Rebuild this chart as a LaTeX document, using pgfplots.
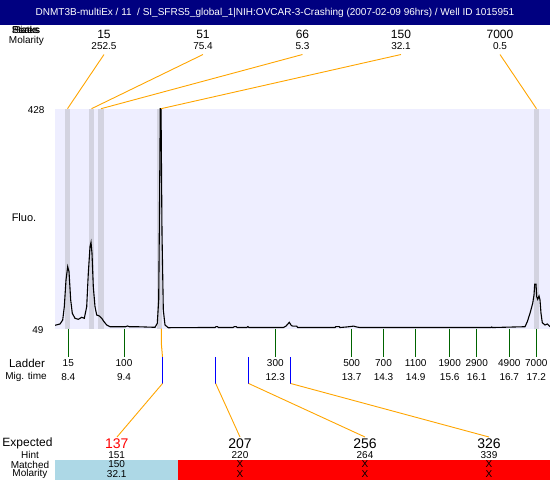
\documentclass[border=0pt]{standalone}
\usepackage{fontspec}
\setmainfont{Liberation Sans}
\usepackage{pgfplots}
\pgfplotsset{compat=1.18}
\definecolor{navy}{RGB}{0,0,128}
\definecolor{lav}{RGB}{238,238,255}
\definecolor{barg}{RGB}{211,211,224}
\definecolor{org}{RGB}{255,165,0}
\definecolor{dgreen}{RGB}{0,100,0}
\definecolor{lblue}{RGB}{173,216,230}
\newcommand{\fs}[1]{\fontsize{#1bp}{#1bp}\selectfont}
\begin{document}
\begin{tikzpicture}
% ---------- trace axis (migration time vs fluorescence) ----------
\begin{axis}[
  at={(55bp,151.3bp)}, anchor=south west,
  width=495bp, height=220bp, scale only axis,
  xmin=8.1495, xmax=17.4715, ymin=49, ymax=428,
  axis line style={draw=none}, xtick=\empty, ytick=\empty,
  axis background/.style={fill=lav},
  no markers,
]
% grey peak bands
\addplot[fill=barg, draw=none] coordinates {(8.3379,49) (8.4320,49) (8.4320,428) (8.3379,428)} -- cycle;
\addplot[fill=barg, draw=none] coordinates {(8.7898,49) (8.8840,49) (8.8840,428) (8.7898,428)} -- cycle;
\addplot[fill=barg, draw=none] coordinates {(8.9537,49) (9.0723,49) (9.0723,428) (8.9537,428)} -- cycle;
\addplot[fill=barg, draw=none] coordinates {(10.0781,49) (10.1723,49) (10.1723,428) (10.0781,428)} -- cycle;
\addplot[fill=barg, draw=none] coordinates {(17.1703,49) (17.2644,49) (17.2644,428) (17.1703,428)} -- cycle;
% electropherogram trace
\addplot[black, line width=1.1bp] coordinates {
(8.1495,54.9) (8.2437,57.1) (8.2945,64.0) (8.3247,86.9) (8.3567,132.9) (8.3887,155.8)
(8.4132,147.2) (8.4452,98.4) (8.4753,75.5) (8.5262,66.9) (8.5883,65.2) (8.6524,68.6)
(8.7013,66.9) (8.7465,86.9) (8.7767,144.4) (8.8087,190.3) (8.8275,197.8) (8.8463,178.9)
(8.8708,121.4) (8.9028,86.9) (8.9348,72.6) (8.9838,70.9) (9.0290,66.9) (9.0723,61.1)
(9.1232,55.4) (9.1853,52.4) (9.4057,52.4) (9.48,52.4) (9.513,53.7) (9.55,52.4)
(9.6881,52.4) (10.0328,51.4) (10.0761,58.3) (10.1024,98.4) (10.1137,213.9) (10.1269,365.5)
(10.1326,440) (10.1458,440) (10.1514,365.5) (10.1646,213.9) (10.1891,81.2) (10.2211,55.4)
(10.2832,50.7) (10.88,51.0) (11.1627,51.0) (11.1815,52.7) (11.2060,52.7) (11.2286,51.0)
(11.5017,51.0) (11.5299,52.7) (11.5582,52.7) (11.58,51.0) (11.7597,51.0) (11.7842,52.7)
(11.8030,51.0) (12.45,51.0) (12.50,53.5) (12.562,60.0) (12.60,54.5) (12.626,53.5)
(12.70,53.5) (12.72,51.0) (13.4226,51.0) (13.44,52.7) (13.50,52.7) (13.5167,51.0)
(13.6429,52.0) (13.74,53.0) (13.77,53.5) (13.83,52.0) (13.89,51.0) (16.36,51.0)
(16.3737,51.9) (16.3888,51.0) (17.0008,52.4) (17.0441,61.1) (17.0950,75.5) (17.1458,92.8)
(17.1703,107.1) (17.1834,125.5) (17.2079,125.5) (17.2211,104.1) (17.2399,99.6) (17.2644,105.3)
(17.2833,98.4) (17.3021,75.5) (17.3266,59.3) (17.3774,55.4) (17.4207,57.1) (17.4715,52.4)
};
\end{axis}
% ---------- overlay axis in pixel frame ----------
\begin{axis}[
  at={(0,0)}, anchor=south west,
  width=550bp, height=480bp, scale only axis,
  xmin=0, xmax=550, ymin=0, ymax=480, y dir=reverse,
  hide axis, clip=false, no markers,
]
% title bar
\addplot[fill=navy, draw=none] coordinates {(0,0) (550,0) (550,24.5) (0,24.5)} -- cycle;
% matched / molarity bars
\addplot[fill=lblue, draw=none] coordinates {(55,460) (178,460) (178,480) (55,480)} -- cycle;
\addplot[fill=red, draw=none] coordinates {(178,460) (550,460) (550,480) (178,480)} -- cycle;
% top connectors
\addplot[org, line width=0.9bp] coordinates {(104,54.5) (67.5,108.7)};
\addplot[org, line width=0.9bp] coordinates {(203,54.5) (91.5,108.7)};
\addplot[org, line width=0.9bp] coordinates {(302.5,54.5) (101,108.7)};
\addplot[org, line width=0.9bp] coordinates {(401,54.5) (161,108.7)};
\addplot[org, line width=0.9bp] coordinates {(500,54.5) (536.5,108.7)};
% ladder ticks
\addplot[dgreen, line width=1bp] coordinates {(68.3,328.7) (68.3,356.7)};
\addplot[dgreen, line width=1bp] coordinates {(124,328.7) (124,356.7)};
\addplot[dgreen, line width=1bp] coordinates {(275.3,328.7) (275.3,356.7)};
\addplot[dgreen, line width=1bp] coordinates {(351.6,328.7) (351.6,356.7)};
\addplot[dgreen, line width=1bp] coordinates {(383.5,328.7) (383.5,356.7)};
\addplot[dgreen, line width=1bp] coordinates {(415.7,328.7) (415.7,356.7)};
\addplot[dgreen, line width=1bp] coordinates {(449.7,328.7) (449.7,356.7)};
\addplot[dgreen, line width=1bp] coordinates {(476.7,328.7) (476.7,356.7)};
\addplot[dgreen, line width=1bp] coordinates {(509.3,328.7) (509.3,356.7)};
\addplot[dgreen, line width=1bp] coordinates {(536.3,328.7) (536.3,356.7)};
% expected-fragment connectors
\addplot[org, line width=1bp] coordinates {(161.3,328.7) (161.3,343) (162.5,357)};
\addplot[blue, line width=1bp] coordinates {(162.5,357) (162.5,383.5)};
\addplot[blue, line width=1bp] coordinates {(215.7,357) (215.7,383.5)};
\addplot[blue, line width=1bp] coordinates {(248.7,357) (248.7,383.5)};
\addplot[blue, line width=1bp] coordinates {(290.7,357) (290.7,383.5)};
\addplot[org, line width=0.9bp] coordinates {(162.5,383.5) (117,437)};
\addplot[org, line width=0.9bp] coordinates {(215.7,383.5) (240,437)};
\addplot[org, line width=0.9bp] coordinates {(248.7,383.5) (365,437)};
\addplot[org, line width=0.9bp] coordinates {(290.7,383.5) (489,437)};
% ---- texts ----
\node[white, font=\fs{10}] at (axis cs:275,12.5) {DNMT3B-multiEx / 11~~/ SI\_SFRS5\_global\_1|NIH:OVCAR-3-Crashing (2007-02-09 96hrs) / Well ID 1015951};
\node[font=\fs{10}] at (axis cs:26,30) {Peaks};
\node[font=\fs{10}] at (axis cs:26,30) {Sizes};
\node[font=\fs{10}] at (axis cs:26,30) {Status};
\node[font=\fs{10}] at (axis cs:26.5,41) {Molarity};
% sizes and molarities of peaks
\node[font=\fs{12}] at (axis cs:104,34) {15};
\node[font=\fs{12}] at (axis cs:203,34) {51};
\node[font=\fs{12}] at (axis cs:302.5,34) {66};
\node[font=\fs{12}] at (axis cs:401,34) {150};
\node[font=\fs{12}] at (axis cs:500,34) {7000};
\node[font=\fs{10}] at (axis cs:104,46.5) {252.5};
\node[font=\fs{10}] at (axis cs:203,46.5) {75.4};
\node[font=\fs{10}] at (axis cs:302.5,46.5) {5.3};
\node[font=\fs{10}] at (axis cs:401,46.5) {32.1};
\node[font=\fs{10}] at (axis cs:500,46.5) {0.5};
% y labels
\node[font=\fs{10}, anchor=east] at (axis cs:48,110) {428};
\node[font=\fs{10}, anchor=east] at (axis cs:47,330) {49};
\node[font=\fs{11}] at (axis cs:24,218) {Fluo.};
% ladder
\node[font=\fs{11.5}] at (axis cs:27,363) {Ladder};
\node[font=\fs{10}] at (axis cs:26,377) {Mig. time};
\node[font=\fs{10}] at (axis cs:68.3,362.7) {15};
\node[font=\fs{10}] at (axis cs:124,362.7) {100};
\node[font=\fs{10}] at (axis cs:275.3,362.7) {300};
\node[font=\fs{10}] at (axis cs:351.6,362.7) {500};
\node[font=\fs{10}] at (axis cs:383.5,362.7) {700};
\node[font=\fs{10}] at (axis cs:415.7,362.7) {1100};
\node[font=\fs{10}] at (axis cs:449.7,362.7) {1900};
\node[font=\fs{10}] at (axis cs:476.7,362.7) {2900};
\node[font=\fs{10}] at (axis cs:509.3,362.7) {4900};
\node[font=\fs{10}] at (axis cs:536.3,362.7) {7000};
\node[font=\fs{10}] at (axis cs:68.3,377) {8.4};
\node[font=\fs{10}] at (axis cs:124,377) {9.4};
\node[font=\fs{10}] at (axis cs:275.3,377) {12.3};
\node[font=\fs{10}] at (axis cs:351.6,377) {13.7};
\node[font=\fs{10}] at (axis cs:383.5,377) {14.3};
\node[font=\fs{10}] at (axis cs:415.7,377) {14.9};
\node[font=\fs{10}] at (axis cs:449.7,377) {15.6};
\node[font=\fs{10}] at (axis cs:476.7,377) {16.1};
\node[font=\fs{10}] at (axis cs:509.3,377) {16.7};
\node[font=\fs{10}] at (axis cs:536.3,377) {17.2};
% expected table
\node[font=\fs{12}] at (axis cs:27.5,443.5) {Expected};
\node[font=\fs{10}] at (axis cs:30,455) {Hint};
\node[font=\fs{10}] at (axis cs:30,464.5) {Matched};
\node[font=\fs{10}] at (axis cs:30,474) {Molarity};
\node[red, font=\fs{14}] at (axis cs:116.7,443.5) {137};
\node[font=\fs{10}] at (axis cs:116.7,455) {151};
\node[font=\fs{10}] at (axis cs:116.7,464.5) {150};
\node[font=\fs{10}] at (axis cs:116.7,474) {32.1};
\node[font=\fs{14}] at (axis cs:240,443.5) {207};
\node[font=\fs{14}] at (axis cs:365,443.5) {256};
\node[font=\fs{14}] at (axis cs:489,443.5) {326};
\node[font=\fs{10}] at (axis cs:240,455) {220};
\node[font=\fs{10}] at (axis cs:365,455) {264};
\node[font=\fs{10}] at (axis cs:489,455) {339};
\node[font=\fs{10}] at (axis cs:240,464.5) {X};
\node[font=\fs{10}] at (axis cs:365,464.5) {X};
\node[font=\fs{10}] at (axis cs:489,464.5) {X};
\node[font=\fs{10}] at (axis cs:240,474) {X};
\node[font=\fs{10}] at (axis cs:365,474) {X};
\node[font=\fs{10}] at (axis cs:489,474) {X};
\end{axis}
\pgfresetboundingbox
\useasboundingbox (0,0) rectangle (550bp,480bp);
\end{tikzpicture}
\end{document}
